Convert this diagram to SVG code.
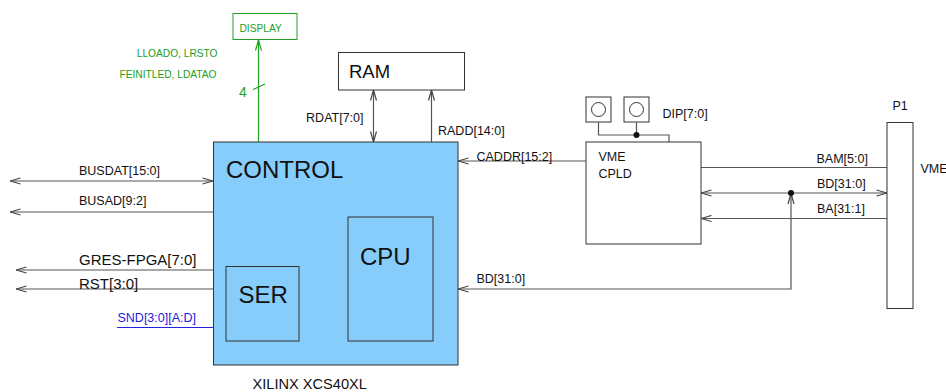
<svg xmlns="http://www.w3.org/2000/svg" width="946" height="392" viewBox="0 0 946 392">
<style>
text{font-family:"Liberation Sans",Arial,sans-serif;fill:#111}
.s{font-size:12.5px}
.m{font-size:15px}
.b{font-size:24px}
.g{fill:#22a022;font-size:10.2px}
.box{fill:#fff;stroke:#333;stroke-width:1}
.blue{fill:#87cdfb;stroke:#333;stroke-width:1}
.ln{fill:none;stroke:#555;stroke-width:1.2}
.gl{fill:none;stroke:#22a022;stroke-width:1.2}
</style>
<defs>
<marker id="a" viewBox="0 0 12 8" refX="11.5" refY="4" markerWidth="12" markerHeight="8" markerUnits="userSpaceOnUse" orient="auto-start-reverse">
<path d="M1,1 L11.5,4 L1,7" fill="none" stroke="#444" stroke-width="1.2"/>
</marker>
<marker id="ag" viewBox="0 0 12 8" refX="11.5" refY="4" markerWidth="12" markerHeight="8" markerUnits="userSpaceOnUse" orient="auto-start-reverse">
<path d="M1,1 L11.5,4 L1,7" fill="none" stroke="#22a022" stroke-width="1.2"/>
</marker>
</defs>

<g id="connectors">
<line class="ln" x1="10" y1="181" x2="213" y2="181" marker-start="url(#a)" marker-end="url(#a)"/>
<line class="ln" x1="213" y1="212" x2="10" y2="212" marker-end="url(#a)"/>
<line class="ln" x1="213" y1="270" x2="16" y2="270" marker-end="url(#a)"/>
<line class="ln" x1="213" y1="289" x2="16" y2="289" marker-end="url(#a)"/>
<line x1="117" y1="327.5" x2="213" y2="327.5" stroke="#2222dd" stroke-width="1.2"/>
<line class="gl" x1="258.5" y1="142" x2="258.5" y2="40" marker-end="url(#ag)"/>
<line class="gl" x1="253" y1="89.5" x2="265" y2="84"/>
<line class="ln" x1="373.5" y1="142" x2="373.5" y2="90" marker-start="url(#a)" marker-end="url(#a)"/>
<line class="ln" x1="431.5" y1="142" x2="431.5" y2="90" marker-end="url(#a)"/>
<line class="ln" x1="586" y1="161" x2="458" y2="161" marker-end="url(#a)"/>
<path class="ln" d="M458,289 H791 V193.5" marker-start="url(#a)" marker-end="url(#a)"/>
<line class="ln" x1="701" y1="167.5" x2="887" y2="167.5"/>
<line class="ln" x1="701" y1="193" x2="887" y2="193" marker-start="url(#a)" marker-end="url(#a)"/>
<line class="ln" x1="887" y1="218.5" x2="701" y2="218.5" marker-end="url(#a)"/>
<circle cx="791" cy="193" r="3" fill="#111"/>
<polyline class="ln" points="598.5,122.5 598.5,135 669,135 669,142"/>
<line class="ln" x1="636.5" y1="122.5" x2="636.5" y2="135"/>
<circle cx="636.5" cy="135" r="3" fill="#111"/>
<text class="s" x="79" y="174.5">BUSDAT[15:0]</text>
<text class="s" x="79" y="205">BUSAD[9:2]</text>
<text class="m" x="79" y="265">GRES-FPGA[7:0]</text>
<text class="m" x="79" y="288.5">RST[3:0]</text>
<text class="s" x="117.5" y="322" style="fill:#2222dd">SND[3:0][A:D]</text>
<text class="g" x="217.5" y="57" text-anchor="end">LLOADO, LRSTO</text>
<text class="g" x="216.5" y="77.5" text-anchor="end">FEINITLED, LDATAO</text>
<text x="239" y="97" style="fill:#22a022;font-size:14px">4</text>
<text class="s" x="363.5" y="122" text-anchor="end">RDAT[7:0]</text>
<text class="s" x="438" y="135">RADD[14:0]</text>
<text class="s" x="476.5" y="160.5">CADDR[15:2]</text>
<text class="s" x="476.5" y="283">BD[31:0]</text>
<text class="s" x="662.5" y="117.5">DIP[7:0]</text>
<text class="s" x="816.5" y="163">BAM[5:0]</text>
<text class="s" x="817" y="187.5">BD[31:0]</text>
<text class="s" x="817" y="213">BA[31:1]</text>
</g>

<g id="control">
<rect class="blue" x="213.5" y="142" width="244.5" height="223"/>
<text class="b" x="226" y="178">CONTROL</text>
<text x="252.5" y="389" style="font-size:14.6px">XILINX XCS40XL</text>
</g>
<g id="cpu">
<rect class="blue" x="348" y="217" width="85" height="124"/>
<text class="b" x="360" y="265">CPU</text>
</g>
<g id="ser">
<rect class="blue" x="226" y="266.5" width="73" height="74.5"/>
<text class="b" x="238.5" y="303">SER</text>
</g>
<g id="ram">
<rect class="box" x="338.5" y="52.5" width="126" height="37.5"/>
<text x="349" y="78" style="font-size:18.5px">RAM</text>
</g>
<g id="display">
<rect x="233" y="13.5" width="64" height="26" fill="#fff" stroke="#22a022" stroke-width="1"/>
<text class="g" x="239.5" y="32">DISPLAY</text>
</g>
<g id="cpld">
<rect class="box" x="586" y="142" width="115" height="102"/>
<text class="s" x="598.5" y="161">VME</text>
<text class="s" x="598.5" y="177.5">CPLD</text>
</g>
<g id="dip1">
<rect class="box" x="586" y="97" width="25" height="25"/>
<circle cx="598.5" cy="109.5" r="7" fill="none" stroke="#333"/>
</g>
<g id="dip2">
<rect class="box" x="624" y="97" width="25" height="25"/>
<circle cx="636.5" cy="109.5" r="7" fill="none" stroke="#333"/>
</g>
<g id="p1">
<rect class="box" x="887" y="122.5" width="26" height="186"/>
<text class="s" x="892.5" y="110">P1</text>
<text class="s" x="920.5" y="173">VME</text>
</g>
</svg>
